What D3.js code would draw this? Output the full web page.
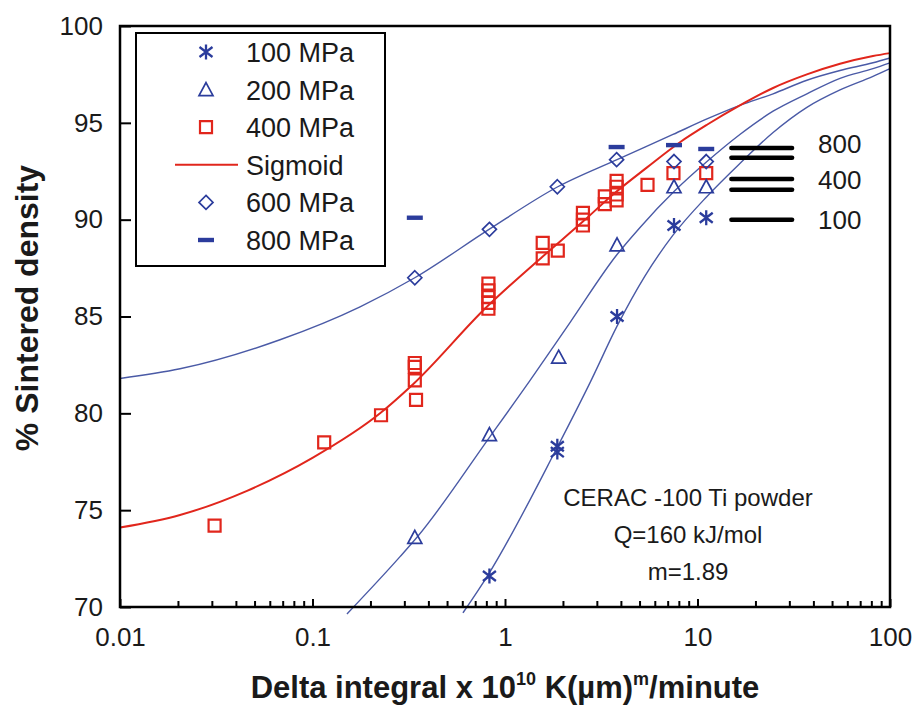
<!DOCTYPE html>
<html>
<head>
<meta charset="utf-8">
<script src="https://cdn.jsdelivr.net/npm/d3@7"></script>
<style>
  body { margin: 0; background: #fff; }
  text { font-family: "Liberation Sans", Arial, sans-serif; fill: #1a1a1a; }
</style>
</head>
<body>
<svg id="chart" width="916" height="710"></svg>
<script>
// measured points, [delta integral, % density]
const pts100 = [[0.83, 71.6], [1.87, 78.3], [1.87, 78.0], [3.82, 85.0], [7.55, 89.7], [11.1, 90.1]];
const pts200 = [[0.34, 73.6], [0.83, 78.9], [1.9, 82.9], [3.82, 88.7], [7.55, 91.7], [11.1, 91.7]];
const pts400 = [
  [0.031, 74.2], [0.115, 78.5], [0.227, 79.9],
  [0.34, 82.6], [0.34, 82.4], [0.34, 81.7], [0.345, 80.7],
  [0.82, 86.7], [0.82, 86.35], [0.82, 86.0], [0.82, 85.7], [0.82, 85.4],
  [1.57, 88.8], [1.57, 88.0], [1.88, 88.4],
  [2.54, 90.35], [2.54, 90.0], [2.54, 89.7],
  [3.3, 91.2], [3.3, 90.8],
  [3.8, 92.0], [3.8, 91.7], [3.8, 91.3], [3.8, 91.0],
  [5.5, 91.8], [7.5, 92.4], [11.1, 92.4]
];
const pts600 = [[0.34, 87.0], [0.83, 89.5], [1.87, 91.7], [3.8, 93.1], [7.55, 93.0], [11.1, 93.0]];
const pts800 = [[0.34, 90.1], [3.8, 93.75], [7.55, 93.85], [11.1, 93.65]];

// fitted curves
const sigmoid = [[0.01, 74.1], [0.0205, 74.75], [0.0457, 76.0], [0.1, 77.7], [0.2244, 80.0], [0.333, 81.5],
  [0.805, 85.5], [1.57, 88.1], [2.54, 89.9], [3.64, 91.3], [5.47, 92.7], [8.11, 94.0], [11.2, 94.9],
  [16.6, 95.9], [24.7, 96.8], [37, 97.5], [55, 98.05], [81.6, 98.45], [100, 98.6]];
const curve600 = [[0.01, 81.8], [0.0205, 82.3], [0.0678, 83.8], [0.1766, 85.5], [0.34, 87.0], [0.826, 89.5],
  [1.88, 91.7], [3.82, 93.1], [7.46, 94.4], [11.2, 95.2], [16.6, 95.9], [24.7, 96.5], [37, 97.2],
  [55, 97.7], [81.6, 98.1], [100, 98.35]];
const curve200 = [[0.151, 69.64], [0.285, 72.6], [0.349, 73.6], [0.836, 78.8], [1.35, 81.7], [2.18, 84.7],
  [3.82, 88.2], [5.03, 89.6], [7.64, 91.5], [11.2, 93.0], [16.6, 94.4], [24.7, 95.6], [37, 96.5],
  [55, 97.3], [81.6, 97.8], [100, 98.1]];
const curve100 = [[0.605, 69.7], [0.816, 71.65], [1.88, 78.3], [2.77, 81.6], [3.82, 84.5], [5.34, 87.1],
  [7.46, 89.2], [11.2, 91.2], [16.6, 92.9], [24.7, 94.5], [37, 95.8], [55, 96.7], [81.6, 97.4], [100, 97.8]];

// conventional sintering levels on the right
const refLevels = [93.7, 93.2, 92.1, 91.55, 90.0];
const refSpan = [15, 31];
const refLabels = [['800', 93.95], ['400', 92.05], ['100', 90.0]];

const xTicks = [0.01, 0.1, 1, 10, 100];
const yTicks = [70, 75, 80, 85, 90, 95, 100];
const noteLines = ['CERAC -100 Ti powder', 'Q=160 kJ/mol', 'm=1.89'];
const legendItems = ['100 MPa', '200 MPa', '400 MPa', 'Sigmoid', '600 MPa', '800 MPa'];

const blue = '#2b3c9c';
const blueLine = '#4a5aa6';
const red = '#e1261c';

const plotL = 120, plotR = 890, plotT = 26, plotB = 607;

const svg = d3.select('#chart');

const x = d3.scaleLog().domain([0.01, 100]).range([plotL, plotR]);
const y = d3.scaleLinear().domain([70, 100]).range([plotB, plotT]);

const minorTicks = [];
for (let p = -2; p < 2; p++) {
  for (let k = 2; k <= 9; k++) minorTicks.push(k * Math.pow(10, p));
}

// axes
const fmt = (d) => (d < 1 ? String(d) : d3.format('d')(d));
const xAxis = svg.append('g')
  .attr('transform', `translate(0, ${plotB})`)
  .call(d3.axisBottom(x).tickValues(xTicks).tickFormat(fmt).tickSizeInner(-8).tickSizeOuter(0).tickPadding(21));
xAxis.selectAll('text').style('font-size', '26px').attr('fill', '#1a1a1a');

svg.append('g')
  .attr('transform', `translate(0, ${plotB})`)
  .call(d3.axisBottom(x).tickValues(minorTicks).tickFormat('').tickSizeInner(-6).tickSizeOuter(0));

const yAxis = svg.append('g')
  .attr('transform', `translate(${plotL}, 0)`)
  .call(d3.axisLeft(y).tickValues(yTicks).tickSizeInner(-11).tickSizeOuter(0).tickPadding(17));
yAxis.selectAll('text').style('font-size', '26px').attr('fill', '#1a1a1a');

svg.selectAll('.domain').remove();
svg.selectAll('.tick line').attr('stroke', '#000').attr('stroke-width', 2);

// curves
const line = d3.line()
  .x((d) => x(d[0]))
  .y((d) => y(d[1]))
  .curve(d3.curveMonotoneX);

const curves = svg.append('g').attr('fill', 'none');
[curve600, curve200, curve100].forEach((c) => {
  curves.append('path').attr('d', line(c)).attr('stroke', blueLine).attr('stroke-width', 1.4);
});
curves.append('path').attr('d', line(sigmoid)).attr('stroke', red).attr('stroke-width', 2);

// marker shapes
const asterisk = 'M0,-7.5V7.5M-6.5,-5L6.5,5M-6.5,5L6.5,-5';
const triangle = 'M0,-7L7,6H-7Z';
const diamond = 'M0,-7L7,0L0,7L-7,0Z';
const square = 'M-6,-6H6V6H-6Z';
const dash = 'M-8,-2.2H8V2.2H-8Z';

function markers(data, shape, color, opts) {
  svg.append('g')
    .selectAll('path')
    .data(data)
    .enter()
    .append('path')
    .attr('d', shape)
    .attr('transform', (d) => `translate(${x(d[0])}, ${y(d[1])})`)
    .attr('fill', opts.fill ? color : 'none')
    .attr('stroke', opts.fill ? 'none' : color)
    .attr('stroke-width', opts.width || 1.6);
}

markers(pts400, square, red, { width: 2.2 });
markers(pts100, asterisk, blue, { width: 2.3 });
markers(pts200, triangle, blue, { width: 1.7 });
markers(pts600, diamond, blue, { width: 1.7 });
markers(pts800, dash, blue, { fill: true });

// reference lines
const refs = svg.append('g');
refs.selectAll('line')
  .data(refLevels)
  .enter()
  .append('line')
  .attr('x1', x(refSpan[0]))
  .attr('x2', x(refSpan[1]))
  .attr('y1', (d) => y(d))
  .attr('y2', (d) => y(d))
  .attr('stroke', '#000')
  .attr('stroke-width', 4.5)
  .attr('stroke-linecap', 'round');

refs.selectAll('text')
  .data(refLabels)
  .enter()
  .append('text')
  .text((d) => d[0])
  .attr('x', 818)
  .attr('y', (d) => y(d[1]))
  .attr('dy', '0.36em')
  .style('font-size', '26px');

// annotation
svg.append('g')
  .selectAll('text')
  .data(noteLines)
  .enter()
  .append('text')
  .text((d) => d)
  .attr('x', 688)
  .attr('y', (d, i) => 506 + i * 37)
  .attr('text-anchor', 'middle')
  .style('font-size', '24px');

// frame
svg.append('rect')
  .attr('x', plotL)
  .attr('y', plotT)
  .attr('width', plotR - plotL)
  .attr('height', plotB - plotT)
  .attr('fill', 'none')
  .attr('stroke', '#000')
  .attr('stroke-width', 2.5);

// legend
const legend = svg.append('g');
legend.append('rect')
  .attr('x', 136)
  .attr('y', 33)
  .attr('width', 249)
  .attr('height', 233)
  .attr('fill', '#fff')
  .attr('stroke', '#000')
  .attr('stroke-width', 2);

const legendShapes = [
  { d: asterisk, color: blue, fill: false, w: 2.3 },
  { d: triangle, color: blue, fill: false, w: 1.7 },
  { d: square, color: red, fill: false, w: 2.2 },
  { d: 'M-31,0H32', color: red, fill: false, w: 2 },
  { d: diamond, color: blue, fill: false, w: 1.7 },
  { d: dash, color: blue, fill: true, w: 0 }
];

const rows = legend.selectAll('g.row')
  .data(legendItems)
  .enter()
  .append('g')
  .attr('class', 'row')
  .attr('transform', (d, i) => `translate(0, ${52 + i * 37.6})`);

rows.append('path')
  .attr('d', (d, i) => legendShapes[i].d)
  .attr('transform', 'translate(206, 0)')
  .attr('fill', (d, i) => (legendShapes[i].fill ? legendShapes[i].color : 'none'))
  .attr('stroke', (d, i) => (legendShapes[i].fill ? 'none' : legendShapes[i].color))
  .attr('stroke-width', (d, i) => legendShapes[i].w);

rows.append('text')
  .text((d) => d)
  .attr('x', 246)
  .attr('y', 10)
  .style('font-size', '27px');

// axis titles
const xTitle = svg.append('text')
  .attr('x', 505)
  .attr('y', 698)
  .attr('text-anchor', 'middle')
  .style('font-size', '31px')
  .style('font-weight', 'bold');
xTitle.append('tspan').text('Delta integral x 10');
xTitle.append('tspan').text('10').attr('dy', -13).style('font-size', '18px');
xTitle.append('tspan').text(' K(µm)').attr('dy', 13);
xTitle.append('tspan').text('m').attr('dy', -13).style('font-size', '18px');
xTitle.append('tspan').text('/minute').attr('dy', 13);

svg.append('text')
  .text('% Sintered density')
  .attr('transform', 'translate(38, 308) rotate(-90)')
  .attr('text-anchor', 'middle')
  .style('font-size', '32px')
  .style('font-weight', 'bold');
</script>
</body>
</html>
